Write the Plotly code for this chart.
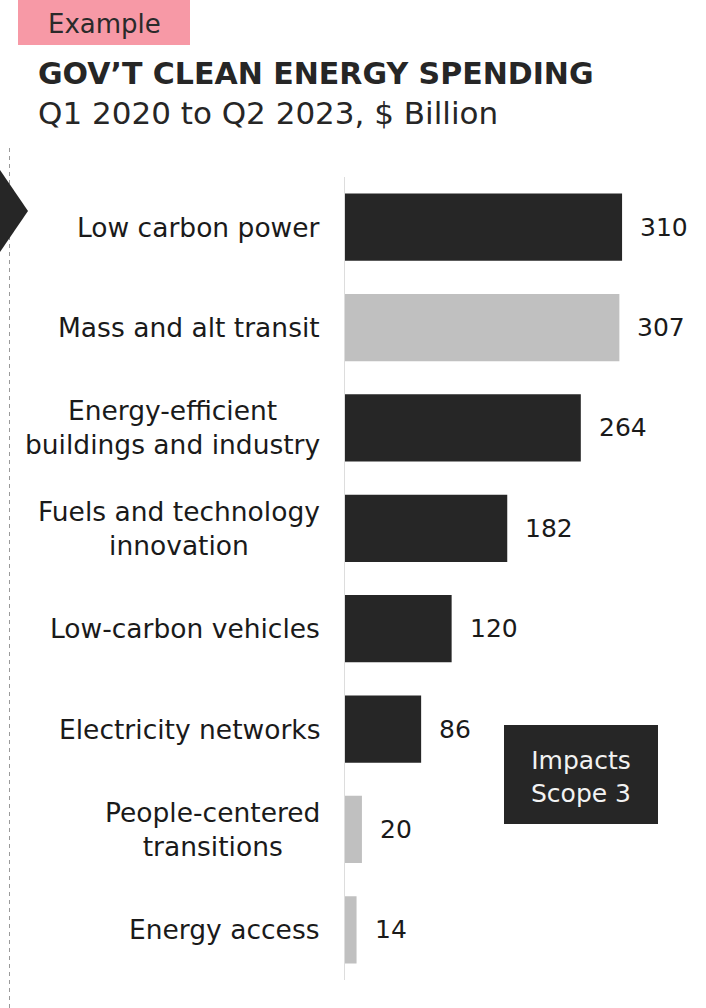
import plotly.graph_objects as go

categories = [
    "Low carbon power",
    "Mass and alt transit",
    "Energy-efficient<br>buildings and industry",
    "Fuels and technology<br>innovation",
    "Low-carbon vehicles",
    "Electricity networks",
    "People-centered<br>transitions",
    "Energy access",
]
values = [310, 307, 264, 182, 120, 86, 20, 14]
impacts_scope3 = [True, False, True, True, True, True, False, False]

title = "GOV’T CLEAN ENERGY SPENDING"
subtitle = "Q1 2020 to Q2 2023, $ Billion"
tag = "Example"
box_text = "Impacts<br>Scope 3"

W, H = 706, 1008
L, R, T, B = 344, 0, 177, 28
PW, PH = W - L - R, H - T - B
FONT = "DejaVu Sans"
DARK = "#262626"
LIGHT = "#c0c0c0"
CAT = 26.5
VAL = 25


def px(x):
    return (x - L) / PW


def py(y):
    return (H - B - y) / PH


colors = [DARK if f else LIGHT for f in impacts_scope3]

fig = go.Figure(
    go.Bar(
        x=values,
        y=categories,
        orientation="h",
        marker=dict(color=colors, line=dict(width=0)),
        hoverinfo="skip",
    )
)

annotations = []
for c, v in zip(categories, values):
    annotations.append(dict(x=v, y=c, xref="x", yref="y", text=str(v), showarrow=False,
                            xanchor="left", yanchor="middle", xshift=16,
                            font=dict(size=VAL, color="#1a1a1a", family=FONT)))
    annotations.append(dict(x=0, y=c, xref="paper", yref="y", text=c, showarrow=False,
                            xanchor="right", yanchor="middle", xshift=-22, align="center",
                            font=dict(size=CAT, color="#1a1a1a", family=FONT)))

annotations += [
    dict(x=px(46), y=py(24), xref="paper", yref="paper", text=tag, showarrow=False,
         xanchor="left", yanchor="middle", font=dict(size=26, color="#2a2a2a", family=FONT)),
    dict(x=px(36), y=py(74), xref="paper", yref="paper", text="<b>" + title + "</b>", showarrow=False,
         xanchor="left", yanchor="middle", font=dict(size=30, color="#262626", family=FONT)),
    dict(x=px(36), y=py(113), xref="paper", yref="paper", text=subtitle, showarrow=False,
         xanchor="left", yanchor="middle", font=dict(size=31, color="#262626", family=FONT)),
    dict(x=px(581), y=py(777), xref="paper", yref="paper", text=box_text, showarrow=False,
         xanchor="center", yanchor="middle", align="center",
         font=dict(size=VAL, color="#f2f2f2", family=FONT)),
]

shapes = [
    dict(type="rect", xref="paper", yref="paper", x0=px(18), x1=px(190), y0=py(0), y1=py(45),
         fillcolor="#f799a6", line=dict(width=0), layer="below"),
    dict(type="line", xref="paper", yref="paper", x0=px(9.5), x1=px(9.5), y0=py(148), y1=py(1008),
         line=dict(color="#9a9a9a", width=1, dash="4px,4px")),
    dict(type="path", xref="paper", yref="paper",
         path=f"M {px(0)},{py(170)} L {px(28)},{py(211)} L {px(0)},{py(252)} Z",
         fillcolor=DARK, line=dict(width=0)),
    dict(type="rect", xref="paper", yref="paper", x0=px(504), x1=px(658), y0=py(725), y1=py(824),
         fillcolor=DARK, line=dict(width=0)),
    dict(type="line", xref="x", yref="paper", x0=0, x1=0, y0=0, y1=1,
         line=dict(color="#dddddd", width=2)),
]

fig.update_layout(
    width=W, height=H,
    margin=dict(l=L, r=R, t=T, b=B, pad=0),
    paper_bgcolor="white", plot_bgcolor="white",
    bargap=0.33,
    showlegend=False,
    xaxis=dict(range=[0, PW / 0.897], visible=False, fixedrange=True),
    yaxis=dict(autorange="reversed", showticklabels=False, showgrid=False, zeroline=False,
               showline=False, ticks="", fixedrange=True),
    annotations=annotations,
    shapes=shapes,
)

fig.write_html("out.html", config={"displayModeBar": False})
